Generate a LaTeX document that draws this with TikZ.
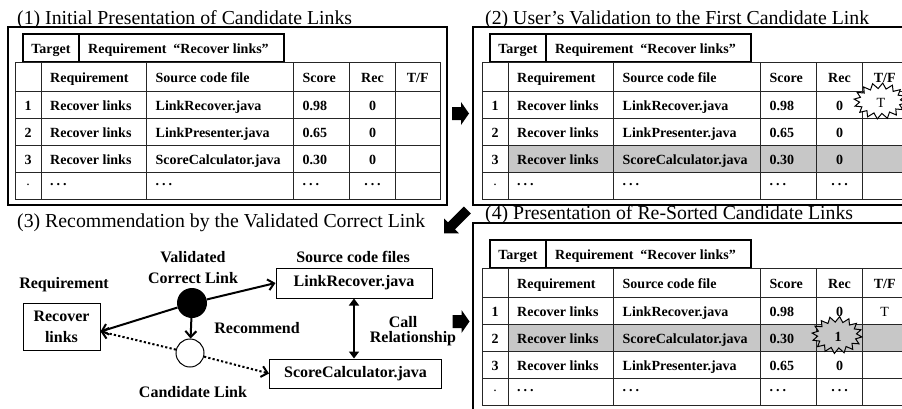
\documentclass[tikz,border=0pt]{standalone}
\usepackage{fontspec}
\setmainfont{Liberation Serif}
\usetikzlibrary{arrows.meta}

\definecolor{rowgray}{gray}{0.78}

\tikzset{
  x=1pt, y=-1pt,
  titletext/.style={anchor=base west, inner sep=0, font=\fontsize{19.8}{22}\selectfont},
  panelframe/.style={draw, line width=1.6pt},
  tline/.style={draw=black!85, line width=0.9pt},
  tgtbox/.style={draw, line width=2pt},
  datext/.style={anchor=base west, inner sep=0, font=\fontsize{14}{16}\selectfont\bfseries},
  damid/.style={anchor=base, inner sep=0, font=\fontsize{14}{16}\selectfont\bfseries},
  burstline/.style={draw, line width=1pt, line join=miter},
  dlabel/.style={inner sep=0, align=center, font=\fontsize{16}{21}\selectfont\bfseries},
  dbox/.style={draw, line width=1pt, dlabel},
  solidarrow/.style={line width=2pt, -{Straight Barb[length=6pt, width=11pt]}},
  dotarrow/.style={line width=2pt, dash pattern=on 2.2pt off 2.2pt,
    -{Straight Barb[length=6pt, width=11pt]}},
  dblarrow/.style={line width=2pt, {Triangle[length=7pt, width=10pt]}-{Triangle[length=7pt, width=10pt]}},
  pics/blockarrow/.style={code={
    \fill (-8.5,-6.5) -- (0.5,-6.5) -- (0.5,-11.5) -- (8.5,0)
          -- (0.5,11.5) -- (0.5,6.5) -- (-8.5,6.5) -- cycle;}},
  pics/longarrow/.style={code={
    \fill (-16.5,-5) -- (6,-5) -- (6,-10.5) -- (16.5,0)
          -- (6,10.5) -- (6,5) -- (-16.5,5) -- cycle;}},
}

% table grid: #1 left x, #2 top y
\newcommand{\gridtable}[2]{%
  \draw[tline] (#1,#2) rectangle (#1+425,#2+137);
  \foreach \dy in {29,56,83,110} \draw[tline] (#1,#2+\dy) -- (#1+425,#2+\dy);
  \foreach \dx in {26,131.5,278.5,334.5,380.5} \draw[tline] (#1+\dx,#2) -- (#1+\dx,#2+137);
}
% target box above a table: #1 name, #2 left x, #3 top y of table
\newcommand{\targetbox}[3]{%
  \draw[tgtbox] (#2+8,#3-28) rectangle (#2+269,#3);
  \draw[tgtbox] (#2+64,#3-28) -- (#2+64,#3);
  \node[damid] (#1-tg) at (#2+36,#3-9) {Target};
  \node[datext] (#1-tr) at (#2+73,#3-9) {Requirement\ \ “Recover links”};
}
% header row: #1 name, #2 left x, #3 top y of table
\newcommand{\headrow}[3]{%
  \node[datext] (#1-hr) at (#2+35,#3+20.5) {Requirement};
  \node[datext] (#1-hf) at (#2+140.5,#3+20.5) {Source code file};
  \node[datext] (#1-hs) at (#2+287.5,#3+20.5) {Score};
  \node[damid] (#1-hc) at (#2+357.5,#3+20.5) {Rec};
  \node[damid] (#1-ht) at (#2+402.75,#3+20.5) {T/F};
}
% data row: #1 name, #2 left x, #3 baseline y, #4..#9 cell texts
\newcommand{\trow}[9]{%
  \node[damid] (#1-n) at (#2+13,#3) {#4};
  \node[datext] (#1-r) at (#2+35,#3) {#5};
  \node[datext] (#1-f) at (#2+140.5,#3) {#6};
  \node[datext] (#1-s) at (#2+287.5,#3) {#7};
  \node[damid] (#1-c) at (#2+357.5,#3) {#8};
  \node[damid] (#1-t) at (#2+402.75,#3) {#9};
}
\newcommand{\dotsrow}[3]{%
  \node[damid] (#1-n) at (#2+13,#3) {\raisebox{6pt}{\mdseries .}};
  \node[datext] (#1-r) at (#2+35,#3) {\raisebox{6pt}{.\hspace{3pt}.\hspace{3pt}.}};
  \node[datext] (#1-f) at (#2+140.5,#3) {\raisebox{6pt}{.\hspace{3pt}.\hspace{3pt}.}};
  \node[datext] (#1-s) at (#2+287.5,#3) {\raisebox{6pt}{.\hspace{3pt}.\hspace{3pt}.}};
  \node[damid] (#1-c) at (#2+357.5,#3) {\raisebox{6pt}{.\hspace{3pt}.\hspace{3pt}.}};
}
% starburst outline: #1 cx, #2 cy, #3 outer rx, #4 outer ry, #5 fill colour
\newcommand{\burstshape}[5]{%
  \filldraw[burstline, fill=#5] plot[samples at={0,...,31}]
    ({#1+(mod(\x,2)==0 ? #3 : #3-5.5)*cos(\x*360/32+6)},
     {#2+(mod(\x,2)==0 ? #4 : #4-5.5)*sin(\x*360/32+6)}) -- cycle;
}

\begin{document}
\begin{tikzpicture}
\useasboundingbox (0,0) rectangle (902,408);
\clip (0,0) rectangle (902,408);
\fill[white] (0,0) rectangle (902,408);

% ---------- (1) initial presentation ----------
\node[titletext] (title1) at (17,24) {(1) Initial Presentation of Candidate Links};
\draw[panelframe] (8,27) rectangle (447,205);
\targetbox{pa}{15}{62}
\gridtable{15}{62}
\headrow{pa}{15}{62}
\trow{pa1}{15}{110.5}{1}{Recover links}{LinkRecover.java}{0.98}{0}{}
\trow{pa2}{15}{137.5}{2}{Recover links}{LinkPresenter.java}{0.65}{0}{}
\trow{pa3}{15}{164.5}{3}{Recover links}{ScoreCalculator.java}{0.30}{0}{}
\dotsrow{pa4}{15}{191.5}

% ---------- (2) user's validation ----------
\node[titletext] (title2) at (485,24) {(2) User’s Validation to the First Candidate Link};
\draw[panelframe] (473,27) rectangle (912,205);
\targetbox{pb}{482}{62}
\fill[rowgray] (482+26,145) rectangle (482+425,172);
\gridtable{482}{62}
\headrow{pb}{482}{62}
\trow{pb1}{482}{110.5}{1}{Recover links}{LinkRecover.java}{0.98}{0}{}
\trow{pb2}{482}{137.5}{2}{Recover links}{LinkPresenter.java}{0.65}{0}{}
\trow{pb3}{482}{164.5}{3}{Recover links}{ScoreCalculator.java}{0.30}{0}{}
\dotsrow{pb4}{482}{191.5}
\burstshape{880}{101}{26}{18}{white}
\node[damid, anchor=center, font=\fontsize{14}{16}\selectfont] (starT) at (881,103) {T};

% ---------- (3) recommendation ----------
\node[titletext] (title3) at (17,227) {(3) Recommendation by the Validated Correct Link};
\node[dlabel] (reqlab) at (64,285) {Requirement};
\node[dbox, minimum width=77pt, minimum height=47pt] (rl) at (61.5,326.5) {Recover\\links};
\coordinate (rlin) at ([yshift=-5pt]rl.east);
\node[dlabel] (vlab) at (193,267.5) {Validated\\Correct Link};
\node[circle, fill, minimum size=30pt, inner sep=0] (vc) at (192,303) {};
\node[circle, draw, line width=1pt, minimum size=28pt, inner sep=0] (cc) at (190,353) {};
\node[dlabel] (reclab) at (257,328) {Recommend};
\node[dlabel] (srclab) at (353,257) {Source code files};
\node[dbox, minimum width=156pt, minimum height=30pt] (lr) at (354,283) {LinkRecover.java};
\node[dbox, minimum width=172pt, minimum height=29pt] (sc) at (355.5,373.5) {ScoreCalculator.java};
\node[dlabel] (calla) at (403,322) {Call};
\node[dlabel] (callb) at (413,339) {Relationship};
\node[dlabel] (candlab) at (193,392) {Candidate Link};

\draw[solidarrow] (vc) -- (rlin);
\draw[dotarrow] (cc) -- (rlin);
\draw[solidarrow] (vc) -- (lr.west);
\draw[dotarrow] (cc) -- (sc.west);
\draw[solidarrow] (vc) -- (cc);
\draw[dblarrow] (lr.south) -- (lr.south |- sc.north);

% ---------- (4) re-sorted presentation ----------
\node[titletext] (title4) at (485,219) {(4) Presentation of Re-Sorted Candidate Links};
\draw[panelframe] (473,223) rectangle (912,418);
\targetbox{pd}{482}{268}
\fill[rowgray] (482+26,268+56) rectangle (482+425,268+83);
\gridtable{482}{268}
\headrow{pd}{482}{268}
\trow{pd1}{482}{316.5}{1}{Recover links}{LinkRecover.java}{0.98}{0}{\mdseries T}
\trow{pd2}{482}{343.5}{2}{Recover links}{ScoreCalculator.java}{0.30}{}{}
\trow{pd3}{482}{370.5}{3}{Recover links}{LinkPresenter.java}{0.65}{0}{}
\dotsrow{pd4}{482}{397.5}
\burstshape{837}{335}{25}{18.5}{rowgray}
\node[damid, anchor=center] (star1) at (838,337) {1};

% ---------- block arrows between panels ----------
\pic (arrA) at (460.5,113.5) {blockarrow};
\pic[rotate=225] (arrB) at (455.7,221.7) {longarrow};
\pic (arrC) at (461,321.5) {blockarrow};
\end{tikzpicture}
\end{document}
